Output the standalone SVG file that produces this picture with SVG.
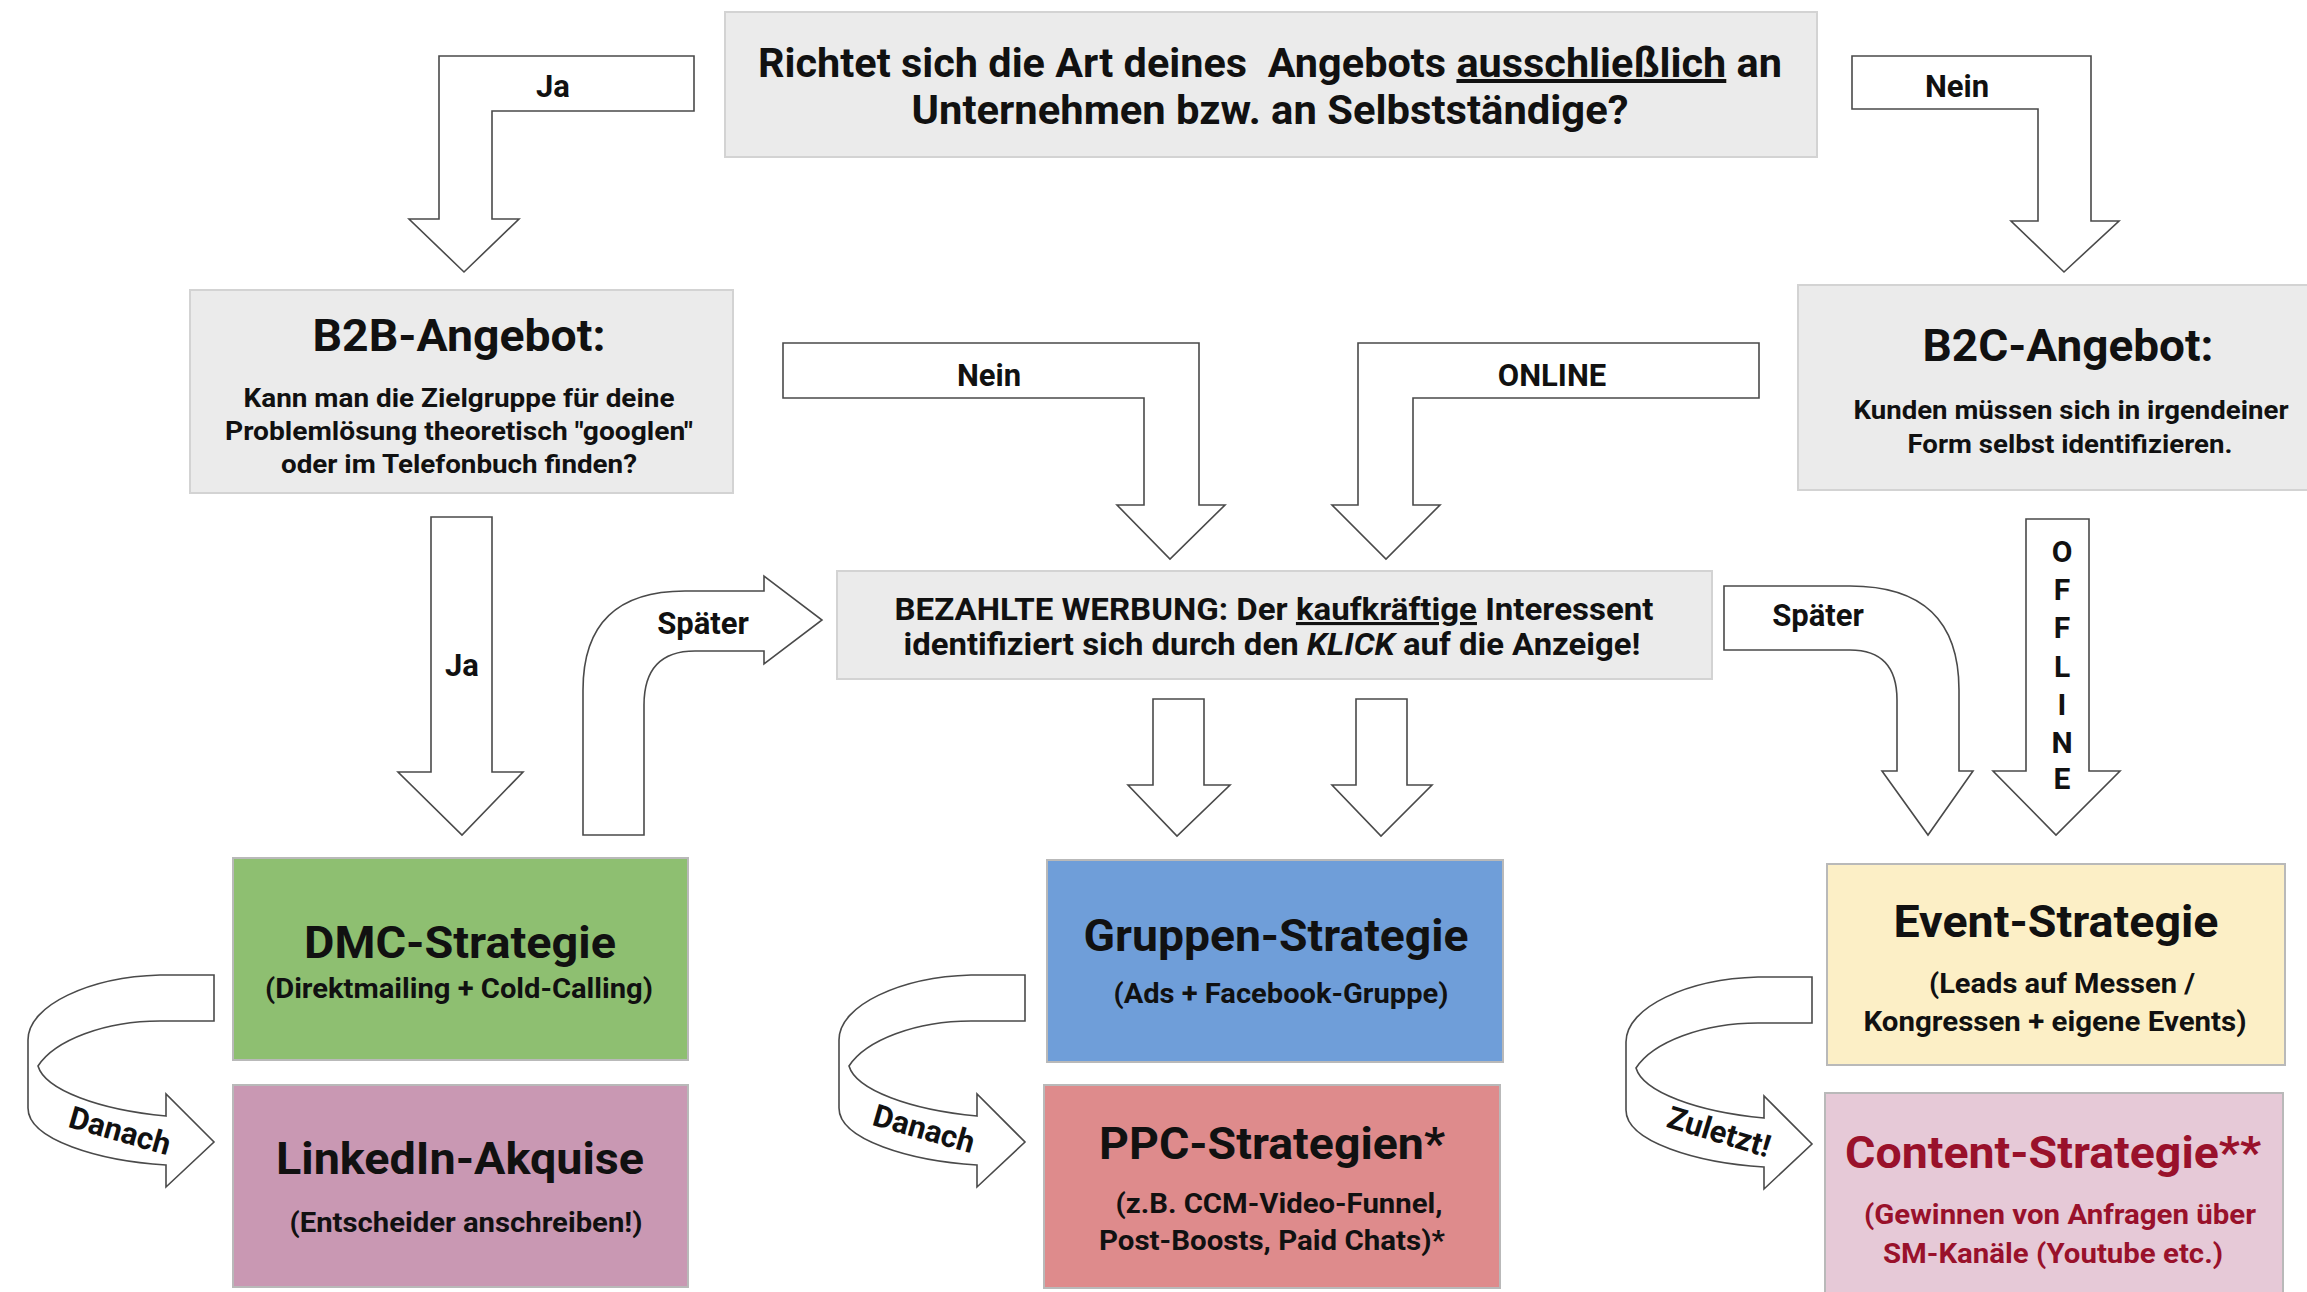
<svg xmlns="http://www.w3.org/2000/svg" xmlns:xlink="http://www.w3.org/1999/xlink" width="2307" height="1292" viewBox="0 0 2307 1292">
  <style>
    .t { font-family: Roboto, "Liberation Sans", sans-serif; font-weight: 700; fill: #111; text-anchor: middle; }
    .gray { fill: #ebebeb; stroke: #d3d3d3; stroke-width: 2; }
    .col { stroke: #b9b9b9; stroke-width: 2; }
    .arr { fill: #ffffff; stroke: #4a4a4a; stroke-width: 1.6; stroke-linejoin: miter; }
    .title { font-size: 45px; }
    .sub { font-size: 27px; }
    .lbl { font-size: 31px; }
    .curl-lbl { font-size: 31px; }
    .red { fill: #99112b; }
  </style>
  <defs>
    <path id="curl" d="M 214 975 L 160 975 C 90 977 28 1005 28 1040 L 28 1108 C 28 1140 100 1161 166 1165 L 166 1187 L 214 1142 L 166 1094 L 166 1116 C 100 1110 45 1090 38 1066 C 55 1040 105 1021 160 1021 L 214 1021 Z"/>
  </defs>
  <rect width="2307" height="1292" fill="#ffffff"/>

  <g id="connectors">
    <polygon class="arr" points="694,56 439,56 439,219 409,219 464,272 519,219 492,219 492,111 694,111"/>
    <polygon class="arr" points="1852,56 2091,56 2091,221 2119,221 2064,272 2011,221 2038,221 2038,109 1852,109"/>
    <polygon class="arr" points="783,343 1199,343 1199,505 1225,505 1170,559 1117,505 1144,505 1144,398 783,398"/>
    <polygon class="arr" points="1759,343 1358,343 1358,505 1332,505 1386,559 1440,505 1413,505 1413,398 1759,398"/>
    <polygon class="arr" points="431,517 492,517 492,772 523,772 462,835 398,772 431,772"/>
    <polygon class="arr" points="2026,519 2089,519 2089,771 2120,771 2056,835 1993,771 2026,771"/>
    <polygon class="arr" points="1153,699 1204,699 1204,785 1230,785 1177,836 1128,785 1153,785"/>
    <polygon class="arr" points="1356,699 1407,699 1407,785 1432,785 1381,836 1332,785 1356,785"/>
    <path class="arr" d="M 583 835 L 583 690 Q 583 591 685 591 L 764 591 L 764 576 L 822 620 L 764 664 L 764 651 L 695 651 Q 644 651 644 705 L 644 835 Z"/>
    <path class="arr" d="M 1724 586 L 1850 586 Q 1959 586 1959 690 L 1959 771 L 1973 771 L 1928 835 L 1882 771 L 1897 771 L 1897 700 Q 1897 650 1850 650 L 1724 650 Z"/>
    <use xlink:href="#curl" class="arr"/>
    <use xlink:href="#curl" class="arr" x="811" y="0"/>
    <use xlink:href="#curl" class="arr" x="1598" y="2"/>

    <text class="t lbl" x="553" y="97">Ja</text>
    <text class="t lbl" x="1957" y="97">Nein</text>
    <text class="t lbl" x="989" y="386">Nein</text>
    <text class="t lbl" x="1552" y="386">ONLINE</text>
    <text class="t lbl" x="462" y="676">Ja</text>
    <text class="t lbl" x="703" y="634">Später</text>
    <text class="t lbl" x="1818" y="626">Später</text>
    <g class="t" font-size="30">
      <text x="2062" y="562">O</text>
      <text x="2062" y="600">F</text>
      <text x="2062" y="638">F</text>
      <text x="2062" y="677">L</text>
      <text x="2062" y="715">I</text>
      <text x="2062" y="753">N</text>
      <text x="2062" y="789">E</text>
    </g>
    <text class="t curl-lbl" transform="translate(117 1141) rotate(16)">Danach</text>
    <text class="t curl-lbl" transform="translate(921 1139) rotate(16)">Danach</text>
    <text class="t curl-lbl" transform="translate(1716 1142) rotate(17)">Zuletzt!</text>
  </g>

  <g id="node-frage">
    <rect class="gray" x="725" y="12" width="1092" height="145"/>
    <text class="t" font-size="40" x="1270" y="77" textLength="1024" lengthAdjust="spacingAndGlyphs" xml:space="preserve">Richtet sich die Art deines  Angebots <tspan text-decoration="underline">ausschließlich</tspan> an</text>
    <text class="t" font-size="40" x="1270" y="124" textLength="717" lengthAdjust="spacingAndGlyphs">Unternehmen bzw. an Selbstständige?</text>
  </g>

  <g id="node-b2b">
    <rect class="gray" x="190" y="290" width="543" height="203"/>
    <text class="t" font-size="45" x="459" y="351" textLength="293" lengthAdjust="spacingAndGlyphs">B2B-Angebot:</text>
    <text class="t" font-size="26" x="459" y="407" textLength="431" lengthAdjust="spacingAndGlyphs">Kann man die Zielgruppe für deine</text>
    <text class="t" font-size="26" x="459" y="440" textLength="468" lengthAdjust="spacingAndGlyphs">Problemlösung theoretisch "googlen"</text>
    <text class="t" font-size="26" x="459" y="473" textLength="356" lengthAdjust="spacingAndGlyphs">oder im Telefonbuch finden?</text>
  </g>

  <g id="node-b2c">
    <rect class="gray" x="1798" y="285" width="530" height="205"/>
    <text class="t" font-size="45" x="2068" y="361" textLength="291" lengthAdjust="spacingAndGlyphs">B2C-Angebot:</text>
    <text class="t" font-size="25" x="2071" y="419" textLength="435" lengthAdjust="spacingAndGlyphs">Kunden müssen sich in irgendeiner</text>
    <text class="t" font-size="25" x="2070" y="453" textLength="325" lengthAdjust="spacingAndGlyphs">Form selbst identifizieren.</text>
  </g>

  <g id="node-bezahlt">
    <rect class="gray" x="837" y="571" width="875" height="108"/>
    <text class="t" font-size="31" x="1274" y="620" textLength="759" lengthAdjust="spacingAndGlyphs">BEZAHLTE WERBUNG: Der <tspan text-decoration="underline">kaufkräftige</tspan> Interessent</text>
    <text class="t" font-size="31" x="1272" y="655" textLength="737" lengthAdjust="spacingAndGlyphs">identifiziert sich durch den <tspan font-style="italic">KLICK</tspan> auf die Anzeige!</text>
  </g>

  <g id="node-dmc">
    <rect class="col" x="233" y="858" width="455" height="202" fill="#8ebf71"/>
    <text class="t title" x="460" y="958" textLength="312" lengthAdjust="spacingAndGlyphs">DMC-Strategie</text>
    <text class="t sub" x="459" y="998" textLength="388" lengthAdjust="spacingAndGlyphs">(Direktmailing + Cold-Calling)</text>
  </g>

  <g id="node-linkedin">
    <rect class="col" x="233" y="1085" width="455" height="202" fill="#c998b3"/>
    <text class="t title" x="460" y="1174" textLength="368" lengthAdjust="spacingAndGlyphs">LinkedIn-Akquise</text>
    <text class="t sub" x="466" y="1232" textLength="353" lengthAdjust="spacingAndGlyphs">(Entscheider anschreiben!)</text>
  </g>

  <g id="node-gruppen">
    <rect class="col" x="1047" y="860" width="456" height="202" fill="#6f9ed9"/>
    <text class="t title" x="1276" y="951" textLength="385" lengthAdjust="spacingAndGlyphs">Gruppen-Strategie</text>
    <text class="t sub" x="1281" y="1003" textLength="335" lengthAdjust="spacingAndGlyphs">(Ads + Facebook-Gruppe)</text>
  </g>

  <g id="node-ppc">
    <rect class="col" x="1044" y="1085" width="456" height="203" fill="#de8b8c"/>
    <text class="t title" x="1272" y="1159" textLength="346" lengthAdjust="spacingAndGlyphs">PPC-Strategien*</text>
    <text class="t sub" x="1279" y="1213" textLength="327" lengthAdjust="spacingAndGlyphs">(z.B. CCM-Video-Funnel,</text>
    <text class="t sub" x="1272" y="1250" textLength="346" lengthAdjust="spacingAndGlyphs">Post-Boosts, Paid Chats)*</text>
  </g>

  <g id="node-event">
    <rect class="col" x="1827" y="864" width="458" height="201" fill="#fcefc6"/>
    <text class="t title" x="2056" y="937" textLength="325" lengthAdjust="spacingAndGlyphs">Event-Strategie</text>
    <text class="t sub" x="2062" y="993" textLength="266" lengthAdjust="spacingAndGlyphs">(Leads auf Messen /</text>
    <text class="t sub" x="2055" y="1031" textLength="383" lengthAdjust="spacingAndGlyphs">Kongressen + eigene Events)</text>
  </g>

  <g id="node-content">
    <rect class="col" x="1825" y="1093" width="458" height="215" fill="#e6c9d7"/>
    <text class="t title red" x="2053" y="1168" textLength="416" lengthAdjust="spacingAndGlyphs">Content-Strategie**</text>
    <text class="t sub red" x="2060" y="1224" textLength="392" lengthAdjust="spacingAndGlyphs">(Gewinnen von Anfragen über</text>
    <text class="t sub red" x="2053" y="1263" textLength="340" lengthAdjust="spacingAndGlyphs">SM-Kanäle (Youtube etc.)</text>
  </g>
</svg>
